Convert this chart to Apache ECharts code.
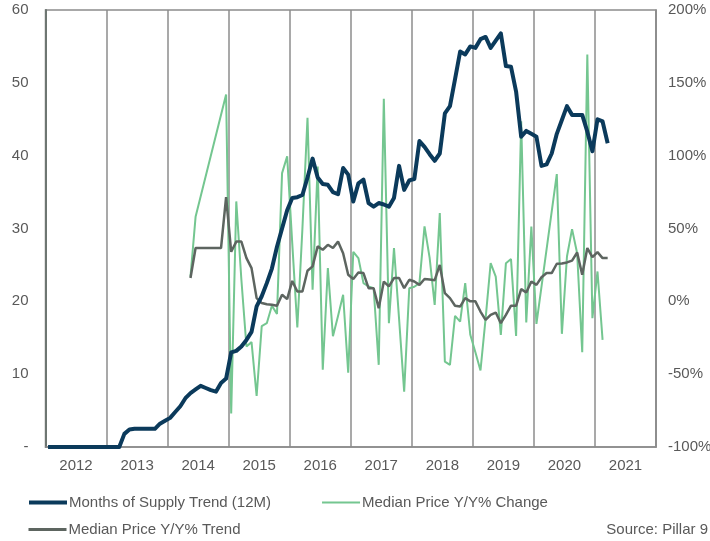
<!DOCTYPE html>
<html>
<head>
<meta charset="utf-8">
<title>Months of Supply vs Median Price</title>
<script src="https://cdn.jsdelivr.net/npm/echarts@6/dist/echarts.min.js"></script>
<style>
  html, body { margin: 0; padding: 0; background: #fff; }
  #chart { width: 710px; height: 541px; }
</style>
</head>
<body>
<div id="chart"></div>
<script>
// 年份（每年 12 个月）
const years = ['2012', '2013', '2014', '2015', '2016', '2017', '2018', '2019', '2020', '2021']

// 供应月数趋势 (12M)，从 2012 年 1 月开始
const supplyTrend = [
  0, 0, 0, 0, 0, 0, 0, 0, 0, 0, 0, 0, 0, 0, 0,
  1.8, 2.4, 2.5, 2.5, 2.5, 2.5, 2.5, 3.2, 3.6, 4.0,
  4.8, 5.6, 6.7, 7.4, 7.9, 8.4, 8.1, 7.8, 7.6, 8.8,
  9.4, 13.0, 13.2, 13.8, 14.7, 15.8, 19.3, 20.7, 22.5, 24.5,
  27.5, 30.0, 32.5, 34.2, 34.3, 34.6, 37.0, 39.6, 37.0, 36.1,
  36.0, 35.0, 34.7, 38.3, 37.4, 33.7, 36.2, 36.7, 33.5, 33.0,
  33.5, 33.3, 33.0, 34.2, 38.6, 35.3, 36.6, 36.8, 42.0, 41.2,
  40.2, 39.3, 40.3, 45.8, 46.8, 50.5, 54.3, 53.9, 55.0, 54.8,
  56.0, 56.3, 54.8, 55.8, 56.8, 52.3, 52.2, 48.8, 42.6, 43.4,
  43.0, 42.6, 38.6, 38.8, 40.3, 43.0, 44.9, 46.8, 45.6, 45.6,
  45.6, 43.3, 40.6, 45.0, 44.7, 41.7
]

// 价格数据从第 28 个月开始
const priceStart = 28

// 中位价同比变化 (%)，null = 缺失
const priceChange = [
  17, 58, null, null, null, null, null, 142, -77, 68.6,
  15, -31, -28, -65, -17, -15, -3, -8.6, 88, 99.5,
  40, -18, 50, 126, 8, 92.6, -47, 22.8, -24, -10,
  4.5, -49, 34, 29.7, 12.5, 10.2, 9, -43.6, 139, -15,
  36.6, -12, -62, 9, 10, 12.5, 51.4, 30, -2.4, 60.6,
  -41.4, -43.6, -10, -13.9, 12.5, -23, -35, -47.5, -12, 26.2,
  17, -23, 26.2, 29, -23.7, 123.6, -14.5, 51.4, -15.5, null,
  null, null, 87.4, -22.3, 30.8, 49.6, 33, -35, 169.4, -11.6,
  20.5, -26.5
]

// 中位价同比趋势 (%)
const priceTrend = [
  16, 36.6, 36.6, 36.6, 36.6, 36.6, 36.6, 71.6, 34, 41,
  41, 29.7, 22.8, 2.2, -1.2, -2, -2.4, -3.1, 4.5, 1.5,
  14, 6.7, 6.7, 21, 24, 37.7, 35.4, 38.8, 36.6, 41,
  33, 18.2, 15.3, 19.8, 19.4, 9, 9, -4.7, 13.6, 10.2,
  16, 16, 9, 14.8, 13.6, 11.3, 15.3, 15, 14.5, 25,
  5.6, 2.2, -3, -3.6, 2.2, 0, 0, -7, -12.7, -9.3,
  -7.7, -15, -9.3, -3, -3.1, 8.4, 6, 13.6, 11.3, 16.5,
  19.5, 19.4, 25.8, 26, 26.7, 28, 33.5, 18.2, 36.6, 30.4,
  33.8, 29.7, 29.7
]

const font = "'Liberation Sans', Arial, sans-serif"
const labelColor = '#595959'
const gridColor = '#8c8c8c'

// 月份类目
const months = []
years.forEach(y => {
  for (let m = 1; m <= 12; m++) months.push(y + '-' + m)
})

function pad(arr) {
  return new Array(priceStart).fill(null).concat(arr)
}

const myChart = echarts.init(document.getElementById('chart'))

// 图例公共样式（隐藏圆点，只保留线）
const legendBase = {
  left: 27,
  padding: 0,
  itemWidth: 38,
  itemHeight: 14,
  itemStyle: { opacity: 0 },
  textStyle: { fontFamily: font, fontSize: 15, color: labelColor, padding: [0, 0, 0, -3] }
}

const option = {
  animation: false,
  textStyle: { fontFamily: font },
  grid: {
    left: 45.5,
    right: 54,
    top: 10,
    bottom: 94,
    show: true,
    borderColor: gridColor,
    borderWidth: 1.5,
    outerBoundsMode: 'none'
  },
  legend: [
    Object.assign({}, legendBase, {
      top: 495,
      itemGap: 50,
      data: [
        { name: 'Months of Supply Trend (12M)', lineStyle: { width: 4 } },
        { name: 'Median Price Y/Y% Change', lineStyle: { width: 2 } }
      ]
    }),
    Object.assign({}, legendBase, {
      top: 522,
      data: [{ name: 'Median Price Y/Y% Trend', lineStyle: { width: 3 } }]
    })
  ],
  graphic: [
    {
      type: 'text',
      right: 2,
      top: 522,
      style: {
        text: 'Source: Pillar 9',
        fontFamily: font,
        fontSize: 15,
        fill: labelColor
      }
    }
  ],
  xAxis: [
    {
      // 月份轴：年份分隔线
      type: 'category',
      data: months,
      boundaryGap: true,
      axisLine: { show: true, lineStyle: { color: gridColor, width: 1.5 } },
      axisTick: { show: false },
      axisLabel: { show: false },
      splitLine: {
        show: true,
        interval: (idx) => idx % 12 === 0,
        lineStyle: { color: gridColor, width: 1.5 }
      }
    },
    {
      // 年份标签
      type: 'category',
      data: years,
      position: 'bottom',
      boundaryGap: true,
      axisLine: { show: false },
      axisTick: { show: false },
      splitLine: { show: false },
      axisLabel: { interval: 0, margin: 11, fontSize: 15, color: labelColor, fontFamily: font }
    }
  ],
  yAxis: [
    {
      type: 'value',
      min: 0,
      max: 60,
      interval: 10,
      axisLine: { show: true, lineStyle: { color: '#6e7672', width: 2 } },
      axisTick: { show: false },
      splitLine: { show: false },
      axisLabel: {
        margin: 17,
        fontSize: 15,
        color: labelColor,
        fontFamily: font,
        formatter: v => (v === 0 ? '-' : v)
      }
    },
    {
      type: 'value',
      min: -100,
      max: 200,
      interval: 50,
      position: 'right',
      axisLine: { show: true, lineStyle: { color: gridColor, width: 1.5 } },
      axisTick: { show: false },
      splitLine: { show: false },
      axisLabel: {
        margin: 12,
        fontSize: 15,
        color: labelColor,
        fontFamily: font,
        formatter: '{value}%'
      }
    }
  ],
  series: [
    {
      name: 'Months of Supply Trend (12M)',
      type: 'line',
      xAxisIndex: 0,
      yAxisIndex: 0,
      data: supplyTrend,
      symbol: 'none',
      z: 4,
      lineStyle: { color: '#0b3a5b', width: 4, join: 'round' },
      itemStyle: { color: '#0b3a5b' }
    },
    {
      name: 'Median Price Y/Y% Change',
      type: 'line',
      xAxisIndex: 0,
      yAxisIndex: 1,
      data: pad(priceChange),
      symbol: 'none',
      connectNulls: true,
      z: 2,
      lineStyle: { color: '#74c690', width: 2 },
      itemStyle: { color: '#74c690' }
    },
    {
      name: 'Median Price Y/Y% Trend',
      type: 'line',
      xAxisIndex: 0,
      yAxisIndex: 1,
      data: pad(priceTrend),
      symbol: 'none',
      z: 3,
      lineStyle: { color: '#5d6560', width: 2.5 },
      itemStyle: { color: '#5d6560' }
    }
  ]
}

myChart.setOption(option)
window.addEventListener('resize', () => {
  myChart.resize()
})
</script>
</body>
</html>
